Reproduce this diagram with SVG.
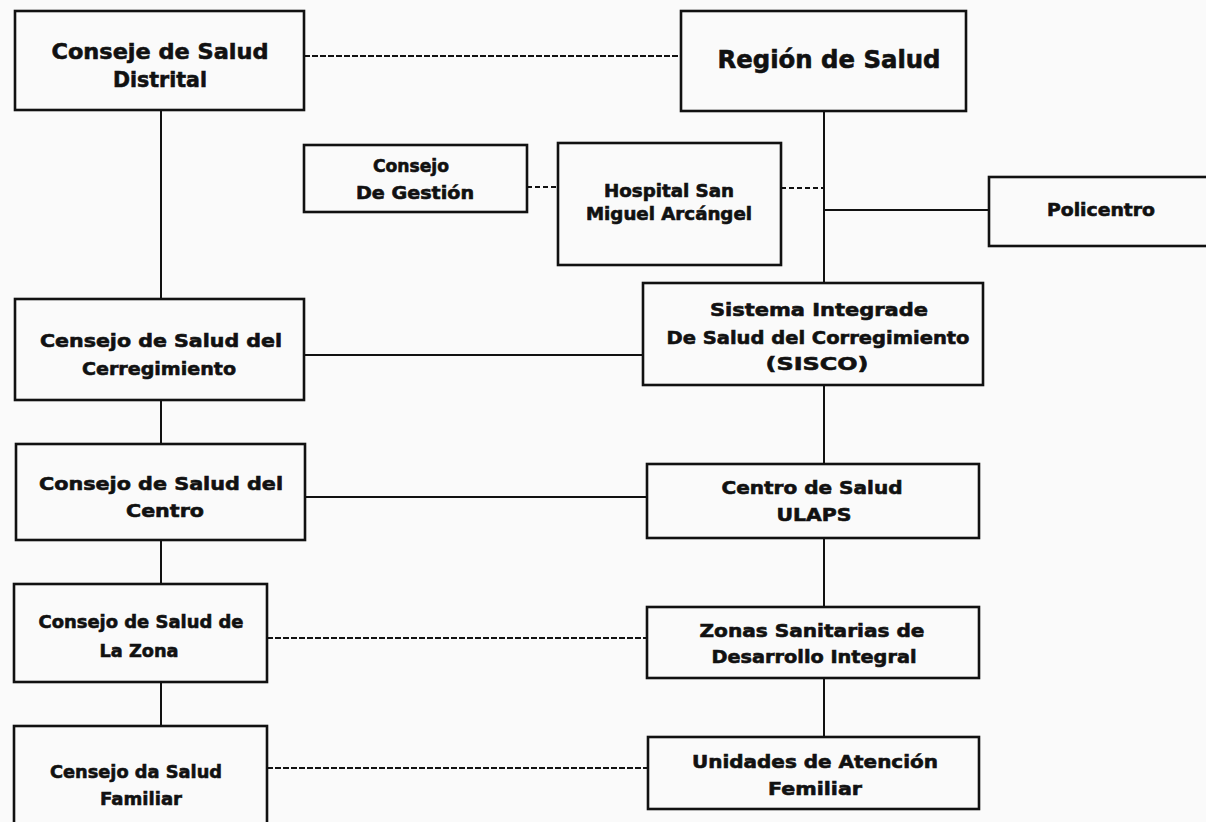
<svg xmlns="http://www.w3.org/2000/svg" width="1206" height="822" viewBox="0 0 1206 822">
<style>
.box{fill:none;stroke:#111;stroke-width:2.6}
.ln{stroke:#111;stroke-width:2;fill:none}
.dl{stroke:#111;stroke-width:2;fill:none;stroke-dasharray:6 2}
.ds{stroke:#111;stroke-width:2;fill:none;stroke-dasharray:5 3}
text{font-family:"DejaVu Sans","Liberation Sans",sans-serif;font-weight:bold;fill:#111;stroke:#111;stroke-width:0.6;text-anchor:middle}
.b{font-size:22px}
.r{font-size:24px}
.m{font-size:18px}
.s{font-size:17px}
</style>
<rect width="1206" height="822" fill="#fafafa"/>
<g id="connectors">
<line class="dl" x1="304" y1="56" x2="681" y2="56"/>
<line class="ln" x1="161" y1="110" x2="161" y2="299"/>
<line class="ln" x1="161" y1="400" x2="161" y2="444"/>
<line class="ln" x1="161" y1="540" x2="161" y2="584"/>
<line class="ln" x1="161" y1="682" x2="161" y2="726"/>
<line class="ln" x1="824" y1="111" x2="824" y2="283"/>
<line class="ln" x1="824" y1="385" x2="824" y2="464"/>
<line class="ln" x1="824" y1="538" x2="824" y2="607"/>
<line class="ln" x1="824" y1="678" x2="824" y2="737"/>
<line class="ds" x1="527" y1="187" x2="558" y2="187"/>
<line class="ds" x1="781" y1="188" x2="824" y2="188"/>
<line class="ln" x1="824" y1="210" x2="989" y2="210"/>
<line class="ln" x1="304" y1="355" x2="643" y2="355"/>
<line class="ln" x1="305" y1="497" x2="647" y2="497"/>
<line class="dl" x1="267" y1="638" x2="647" y2="638"/>
<line class="dl" x1="267" y1="768" x2="648" y2="768"/>
</g>
<g id="n-distrital">
<rect class="box" x="15" y="11" width="289" height="99"/>
<text class="b" x="160" y="59" textLength="217" lengthAdjust="spacingAndGlyphs">Conseje de Salud</text>
<text class="b" x="160" y="87" textLength="94" lengthAdjust="spacingAndGlyphs">Distrital</text>
</g>
<g id="n-region">
<rect class="box" x="681" y="11" width="285" height="100"/>
<text class="r" x="829" y="68" textLength="223" lengthAdjust="spacingAndGlyphs">Región de Salud</text>
</g>
<g id="n-gestion">
<rect class="box" x="304" y="145" width="223" height="67"/>
<text class="s" x="411" y="172" textLength="76" lengthAdjust="spacingAndGlyphs">Consejo</text>
<text class="s" x="415" y="199" textLength="118" lengthAdjust="spacingAndGlyphs">De Gestión</text>
</g>
<g id="n-hospital">
<rect class="box" x="558" y="143" width="223" height="122"/>
<text class="s" x="669" y="197" textLength="130" lengthAdjust="spacingAndGlyphs">Hospital San</text>
<text class="s" x="669" y="220" textLength="166" lengthAdjust="spacingAndGlyphs">Miguel Arcángel</text>
</g>
<g id="n-policentro">
<rect class="box" x="989" y="177" width="222" height="69"/>
<text class="s" x="1101" y="216" textLength="108" lengthAdjust="spacingAndGlyphs">Policentro</text>
</g>
<g id="n-sisco">
<rect class="box" x="643" y="283" width="340" height="102"/>
<text class="m" x="819" y="316" textLength="218" lengthAdjust="spacingAndGlyphs">Sistema Integrade</text>
<text class="m" x="818" y="344" textLength="303" lengthAdjust="spacingAndGlyphs">De Salud del Corregimiento</text>
<text class="m" x="817" y="370" textLength="103" lengthAdjust="spacingAndGlyphs">(SISCO)</text>
</g>
<g id="n-cerregimiento">
<rect class="box" x="15" y="299" width="289" height="101"/>
<text class="m" x="161" y="347" textLength="242" lengthAdjust="spacingAndGlyphs">Censejo de Salud del</text>
<text class="m" x="159" y="375" textLength="154" lengthAdjust="spacingAndGlyphs">Cerregimiento</text>
</g>
<g id="n-centro">
<rect class="box" x="16" y="444" width="289" height="96"/>
<text class="m" x="161" y="490" textLength="244" lengthAdjust="spacingAndGlyphs">Consejo de Salud del</text>
<text class="m" x="165" y="517" textLength="78" lengthAdjust="spacingAndGlyphs">Centro</text>
</g>
<g id="n-ulaps">
<rect class="box" x="647" y="464" width="332" height="74"/>
<text class="m" x="812" y="494" textLength="181" lengthAdjust="spacingAndGlyphs">Centro de Salud</text>
<text class="m" x="814" y="521" textLength="75" lengthAdjust="spacingAndGlyphs">ULAPS</text>
</g>
<g id="n-zona">
<rect class="box" x="14" y="584" width="253" height="98"/>
<text class="m" x="141" y="628" textLength="205" lengthAdjust="spacingAndGlyphs">Consejo de Salud de</text>
<text class="m" x="139" y="657" textLength="79" lengthAdjust="spacingAndGlyphs">La Zona</text>
</g>
<g id="n-zonas">
<rect class="box" x="647" y="607" width="332" height="71"/>
<text class="m" x="812" y="637" textLength="225" lengthAdjust="spacingAndGlyphs">Zonas Sanitarias de</text>
<text class="m" x="814" y="663" textLength="205" lengthAdjust="spacingAndGlyphs">Desarrollo Integral</text>
</g>
<g id="n-familiar">
<rect class="box" x="14" y="726" width="253" height="110"/>
<text class="m" x="136" y="778" textLength="172" lengthAdjust="spacingAndGlyphs">Censejo da Salud</text>
<text class="m" x="141" y="805" textLength="82" lengthAdjust="spacingAndGlyphs">Familiar</text>
</g>
<g id="n-unidades">
<rect class="box" x="648" y="737" width="331" height="72"/>
<text class="m" x="815" y="768" textLength="246" lengthAdjust="spacingAndGlyphs">Unidades de Atención</text>
<text class="m" x="815" y="795" textLength="94" lengthAdjust="spacingAndGlyphs">Femiliar</text>
</g>
</svg>
